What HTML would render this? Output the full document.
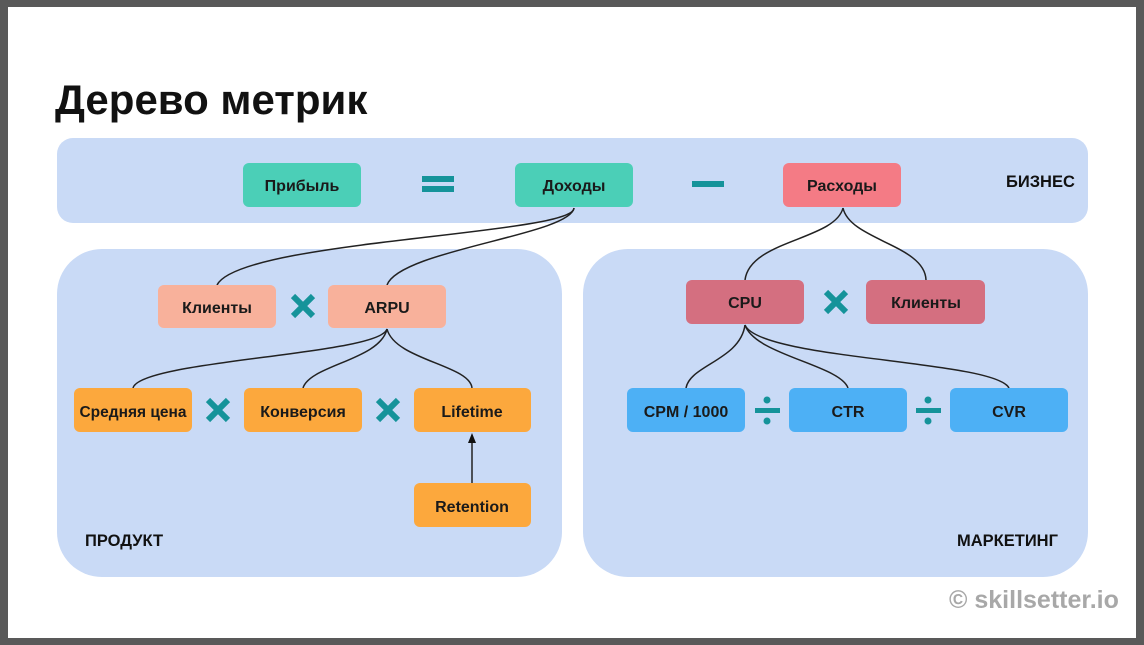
<!DOCTYPE html>
<html><head><meta charset="utf-8"><style>
body{margin:0;width:1144px;height:645px;overflow:hidden;background:#555;}
svg{display:block}
text{font-family:"Liberation Sans","DejaVu Sans",sans-serif;font-weight:bold;}
</style></head><body>
<svg width="1144" height="645" viewBox="0 0 1144 645">
<rect x="0" y="0" width="1144" height="645" fill="#595959"/>
<rect x="8" y="7" width="1128" height="631" fill="#fff"/>
<text x="55" y="114" font-size="42" fill="#111">Дерево метрик</text>
<rect x="57" y="138" width="1031" height="85" rx="16" fill="#c9daf6"/>
<rect x="57" y="249" width="505" height="328" rx="45" fill="#c9daf6"/>
<rect x="583" y="249" width="505" height="328" rx="45" fill="#c9daf6"/>
<g fill="none" stroke="#222" stroke-width="1.5">
<path d="M574 208 C574 235 240 240 217 285"/>
<path d="M574 208 C570 235 400 250 387 285"/>
<path d="M843 208 C835 240 750 240 745 280"/>
<path d="M843 208 C850 240 925 245 926 280"/>
<path d="M387 329 C380 355 140 360 133 388"/>
<path d="M387 329 C380 360 310 365 303 388"/>
<path d="M387 329 C395 360 470 365 472 388"/>
<path d="M745 325 C740 360 690 365 686 388"/>
<path d="M745 325 C755 355 840 365 848 388"/>
<path d="M745 325 C760 360 995 360 1009 388"/>
<path d="M472 483 L472 440"/>
</g>
<path d="M472 433 L468 443 L476 443 Z" fill="#111"/>
<g font-size="16" text-anchor="middle" fill="#1a1a1a">
<rect x="243" y="163" width="118" height="44" rx="6" fill="#4bcfb7"/><text x="302" y="191">Прибыль</text>
<rect x="515" y="163" width="118" height="44" rx="6" fill="#4bcfb7"/><text x="574" y="191">Доходы</text>
<rect x="783" y="163" width="118" height="44" rx="6" fill="#f47b85"/><text x="842" y="191">Расходы</text>
<rect x="158" y="285" width="118" height="43" rx="6" fill="#f8b19b"/><text x="217" y="313">Клиенты</text>
<rect x="328" y="285" width="118" height="43" rx="6" fill="#f8b19b"/><text x="387" y="313">ARPU</text>
<rect x="74" y="388" width="118" height="44" rx="6" fill="#fca83d"/><text x="133" y="417" font-size="15.5">Средняя цена</text>
<rect x="244" y="388" width="118" height="44" rx="6" fill="#fca83d"/><text x="303" y="417">Конверсия</text>
<rect x="414" y="388" width="117" height="44" rx="6" fill="#fca83d"/><text x="472" y="417">Lifetime</text>
<rect x="414" y="483" width="117" height="44" rx="6" fill="#fca83d"/><text x="472" y="512">Retention</text>
<rect x="686" y="280" width="118" height="44" rx="6" fill="#d46f80"/><text x="745" y="308">CPU</text>
<rect x="866" y="280" width="119" height="44" rx="6" fill="#d46f80"/><text x="926" y="308">Клиенты</text>
<rect x="627" y="388" width="118" height="44" rx="6" fill="#4db0f5"/><text x="686" y="417">CPM / 1000</text>
<rect x="789" y="388" width="118" height="44" rx="6" fill="#4db0f5"/><text x="848" y="417">CTR</text>
<rect x="950" y="388" width="118" height="44" rx="6" fill="#4db0f5"/><text x="1009" y="417">CVR</text>
</g>
<g fill="#15939a">
<rect x="422" y="176" width="32" height="6"/><rect x="422" y="186" width="32" height="6"/>
<rect x="692" y="181" width="32" height="6"/>
<rect x="755" y="408" width="25" height="5"/><circle cx="767" cy="400" r="3.5"/><circle cx="767" cy="421" r="3.5"/>
<rect x="916" y="408" width="25" height="5"/><circle cx="928" cy="400" r="3.5"/><circle cx="928" cy="421" r="3.5"/>
</g>
<g stroke="#15939a" stroke-width="6" stroke-linecap="butt">
<path d="M293 296 L313 316 M313 296 L293 316"/>
<path d="M826 292 L846 312 M846 292 L826 312"/>
<path d="M208 400 L228 420 M228 400 L208 420"/>
<path d="M378 400 L398 420 M398 400 L378 420"/>
</g>
<g font-size="16.5" fill="#111">
<text x="1006" y="187">БИЗНЕС</text>
<text x="85" y="546">ПРОДУКТ</text>
<text x="957" y="546">МАРКЕТИНГ</text>
</g>
<text x="949" y="608" font-size="25" fill="#a8a8a8">© skillsetter.io</text>
</svg>
</body></html>
